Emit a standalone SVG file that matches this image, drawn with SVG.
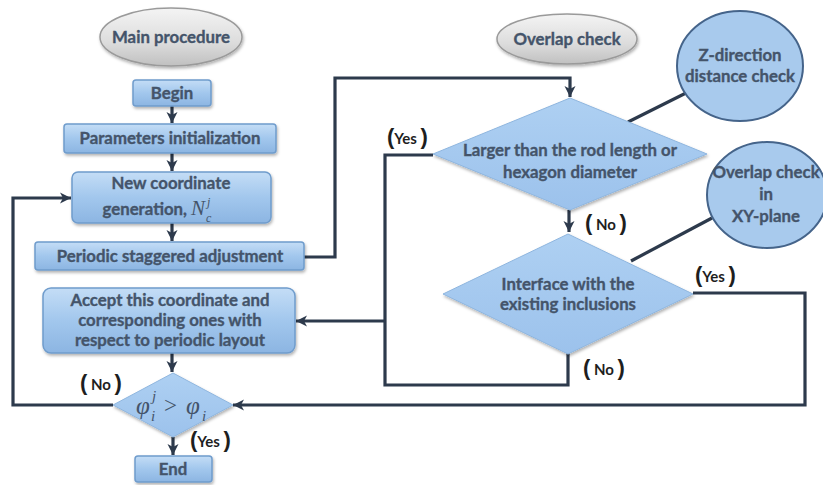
<svg xmlns="http://www.w3.org/2000/svg" width="823" height="485" viewBox="0 0 823 485">
<style>
.t{font-family:Lato,"Open Sans","Liberation Sans",sans-serif;font-weight:700;fill:#44546a;stroke:#44546a;stroke-width:0.35;font-size:16.8px;text-anchor:middle}
.m{font-family:"Liberation Serif","DejaVu Serif",serif;font-style:italic;fill:#44546a}
.lbl{font-family:Lato,"Open Sans","Liberation Sans",sans-serif;fill:#1e1e1e;font-size:15px;font-weight:700}
.br{font-weight:700;font-size:22px;font-family:"Liberation Sans",sans-serif}
.box{fill:url(#bg);stroke:#6f9ccc;stroke-width:1.5}
.dia{fill:url(#dg);stroke:#8fb6df;stroke-width:1}
.cir{fill:#a8caed;stroke:#45648a;stroke-width:2}
.ell{fill:url(#gg);stroke:#9a9a9a;stroke-width:1.5}
.c{fill:none;stroke:#2d3a4c;stroke-width:3.2}
</style>
<defs>
<linearGradient id="bg" x1="0" y1="0" x2="0" y2="1">
<stop offset="0" stop-color="#c4ddf6"/><stop offset="0.5" stop-color="#a2c7ed"/><stop offset="1" stop-color="#8cb5e2"/>
</linearGradient>
<linearGradient id="dg" x1="0" y1="0" x2="0" y2="1">
<stop offset="0" stop-color="#aed0f2"/><stop offset="1" stop-color="#9cc2ec"/>
</linearGradient>
<linearGradient id="gg" x1="0" y1="0" x2="0" y2="1">
<stop offset="0" stop-color="#f4f4f4"/><stop offset="0.6" stop-color="#dcdcdc"/><stop offset="1" stop-color="#c0c0c0"/>
</linearGradient>
<filter id="sh" x="-10%" y="-10%" width="120%" height="130%">
<feDropShadow dx="1" dy="2" stdDeviation="1.5" flood-color="#000" flood-opacity="0.3"/>
</filter>
<marker id="ah" markerUnits="userSpaceOnUse" markerWidth="12" markerHeight="12" refX="11" refY="6" orient="auto">
<path d="M0,0.5 L11,6 L0,11.5 L3,6 z" fill="#2d3a4c"/>
</marker>
</defs>

<g id="connectors">
<line class="c" x1="172" y1="106" x2="172" y2="123" marker-end="url(#ah)"/>
<line class="c" x1="172" y1="153" x2="172" y2="171" marker-end="url(#ah)"/>
<line class="c" x1="172" y1="223" x2="172" y2="241" marker-end="url(#ah)"/>
<line class="c" x1="172" y1="353" x2="172" y2="372" marker-end="url(#ah)"/>
<line class="c" x1="173" y1="437" x2="173" y2="455" marker-end="url(#ah)"/>
<polyline class="c" points="113,405 13,405 13,198 71,198" marker-end="url(#ah)"/>
<polyline class="c" points="304,257 335,257 335,78 570,78 570,97" marker-end="url(#ah)"/>
<line class="c" x1="569" y1="210" x2="569" y2="232" marker-end="url(#ah)"/>
<polyline class="c" points="433,155 385,155 385,385 568,385 568,353"/>
<line class="c" x1="385" y1="321" x2="296" y2="321" marker-end="url(#ah)"/>
<polyline class="c" points="693,293 805,293 805,405 233,405" marker-end="url(#ah)"/>
<line class="c" x1="628" y1="122" x2="686" y2="93"/>
<line class="c" x1="631" y1="261" x2="712" y2="218"/>
</g>

<g id="main-procedure">
<ellipse class="ell" cx="171" cy="37" rx="71" ry="29" filter="url(#sh)"/>
<text class="t" x="171" y="43" font-size="17.5">Main procedure</text>
</g>
<g id="begin">
<rect class="box" x="133" y="80" width="78" height="26" rx="3" filter="url(#sh)"/>
<text class="t" x="172" y="99">Begin</text>
</g>
<g id="params">
<rect class="box" x="64" y="124" width="212" height="29" rx="3" filter="url(#sh)"/>
<text class="t" x="170" y="144">Parameters initialization</text>
</g>
<g id="new-coord">
<rect class="box" x="72" y="172" width="199" height="51" rx="6" filter="url(#sh)"/>
<text class="t" x="171" y="189">New coordinate</text>
<text class="t" x="187" y="215" style="text-anchor:end">generation,</text>
<text class="m" x="191" y="215" font-size="21">N</text>
<text class="m" x="207" y="206" font-size="12">j</text>
<text class="m" x="206" y="222" font-size="12">c</text>
</g>
<g id="periodic">
<rect class="box" x="35" y="242" width="269" height="28" rx="3" filter="url(#sh)"/>
<text class="t" x="170" y="262">Periodic staggered adjustment</text>
</g>
<g id="accept">
<rect class="box" x="43" y="288" width="252" height="65" rx="8" filter="url(#sh)"/>
<text class="t" x="170" y="306">Accept this coordinate and</text>
<text class="t" x="170" y="326">corresponding ones with</text>
<text class="t" x="170" y="346">respect to periodic layout</text>
</g>
<g id="phi-check">
<polygon class="dia" points="173,373 233,405 173,437 113,405" filter="url(#sh)"/>
<text class="m" x="136" y="414" font-size="25">φ</text>
<text class="m" x="152" y="401" font-size="15">j</text>
<text class="m" x="151" y="421" font-size="15">i</text>
<text class="m" x="164" y="413" font-size="23" style="font-style:normal">&gt;</text>
<text class="m" x="186" y="414" font-size="25">φ</text>
<text class="m" x="202" y="421" font-size="15">i</text>
</g>
<g id="end">
<rect class="box" x="135" y="456" width="77" height="26" rx="3" filter="url(#sh)"/>
<text class="t" x="173" y="475">End</text>
</g>

<g id="overlap-check">
<ellipse class="ell" cx="567" cy="39" rx="70" ry="25" filter="url(#sh)"/>
<text class="t" x="567" y="45">Overlap check</text>
</g>
<g id="z-circle">
<ellipse class="cir" cx="740" cy="66" rx="63" ry="55"/>
<text class="t" x="740" y="61">Z-direction</text>
<text class="t" x="740" y="82">distance check</text>
</g>
<g id="larger-check">
<polygon class="dia" points="570,98 707,154 570,210 433,154" filter="url(#sh)"/>
<text class="t" x="570" y="156">Larger than the rod length or</text>
<text class="t" x="570" y="178">hexagon diameter</text>
</g>
<g id="xy-circle">
<ellipse class="cir" cx="767" cy="195" rx="60" ry="53"/>
<text class="t" x="766" y="178">Overlap check</text>
<text class="t" x="766" y="200">in</text>
<text class="t" x="766" y="222">XY-plane</text>
</g>
<g id="interface-check">
<polygon class="dia" points="568,234 693,294 568,354 443,294" filter="url(#sh)"/>
<text class="t" x="568" y="290">Interface with the</text>
<text class="t" x="568" y="310">existing inclusions</text>
</g>

<g id="labels">
<text class="lbl" x="80" y="390"><tspan class="br">(</tspan> No <tspan class="br">)</tspan></text>
<text class="lbl" x="190" y="447"><tspan class="br">(</tspan>Yes <tspan class="br">)</tspan></text>
<text class="lbl" x="387" y="144"><tspan class="br">(</tspan>Yes <tspan class="br">)</tspan></text>
<text class="lbl" x="585" y="230"><tspan class="br">(</tspan> No <tspan class="br">)</tspan></text>
<text class="lbl" x="695" y="282"><tspan class="br">(</tspan>Yes <tspan class="br">)</tspan></text>
<text class="lbl" x="583" y="375"><tspan class="br">(</tspan> No <tspan class="br">)</tspan></text>
</g>
</svg>
